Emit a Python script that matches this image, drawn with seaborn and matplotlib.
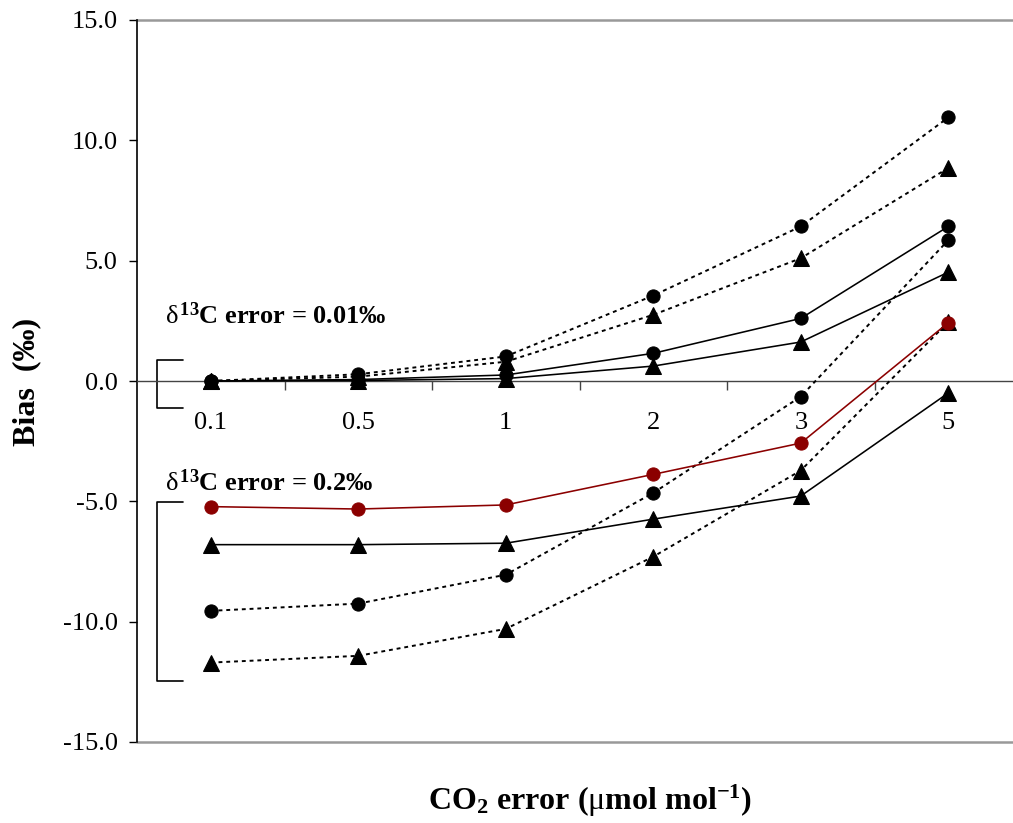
import matplotlib
matplotlib.use("Agg")
import matplotlib.pyplot as plt
import seaborn as sns
import numpy as np
from matplotlib.ticker import FixedLocator, FormatStrFormatter, NullFormatter

# ---------------- data ----------------
categories = ["0.1", "0.5", "1", "2", "3", "5"]

# delta13C error = 0.01 permil
hi_dot_circle = [0.0, 0.28, 1.02, 3.55, 6.42, 10.95]
hi_dot_tri    = [0.0, 0.18, 0.80, 2.75, 5.10, 8.85]
hi_sol_circle = [0.0, 0.06, 0.25, 1.15, 2.60, 6.42]
hi_sol_tri    = [0.0, 0.02, 0.10, 0.62, 1.62, 4.52]

# delta13C error = 0.2 permil
lo_red_circle = [-5.22, -5.32, -5.15, -3.88, -2.58, 2.42]
lo_sol_tri    = [-6.80, -6.80, -6.74, -5.74, -4.78, -0.50]
lo_dot_circle = [-9.55, -9.25, -8.05, -4.65, -0.65, 5.85]
lo_dot_tri    = [-11.70, -11.42, -10.30, -7.30, -3.72, 2.45]

y_ticks = [-15.0, -10.0, -5.0, 0.0, 5.0, 10.0, 15.0]

# ---------------- style ----------------
sns.set_theme(style="white")
plt.rcParams["font.family"] = ["Liberation Serif", "DejaVu Serif"]
plt.rcParams["mathtext.fontset"] = "custom"
plt.rcParams["mathtext.rm"] = "Liberation Serif"
plt.rcParams["mathtext.it"] = "Liberation Serif:italic"
plt.rcParams["mathtext.bf"] = "Liberation Serif:bold"
plt.rcParams["axes.unicode_minus"] = False
plt.rcParams["text.color"] = "black"
plt.rcParams["xtick.color"] = "black"
plt.rcParams["ytick.color"] = "black"
plt.rcParams["axes.labelcolor"] = "black"

fig = plt.figure(figsize=(10.13, 8.23), dpi=100)
ax = fig.add_axes([137 / 1013, 1 - 742 / 823, (1022 - 137) / 1013, (742 - 20) / 823])

xpos = np.arange(len(categories))

dot = (0, (2, 2))
series = [
    (hi_dot_circle, "black", "o", dot, 1.4),
    (hi_dot_tri, "black", "^", dot, 1.4),
    (hi_sol_circle, "black", "o", "-", 1.15),
    (hi_sol_tri, "black", "^", "-", 1.15),
    (lo_sol_tri, "black", "^", "-", 1.15),
    (lo_dot_circle, "black", "o", dot, 1.4),
    (lo_dot_tri, "black", "^", dot, 1.4),
    (lo_red_circle, "#8B0000", "o", "-", 1.15),
]
for vals, col, mk, ls, lw in series:
    ms = 9.5 if mk == "o" else 11
    sns.lineplot(x=xpos, y=vals, ax=ax, color=col, marker=mk, markersize=ms,
                 markeredgecolor=col, markerfacecolor=col, linestyle=ls,
                 linewidth=lw, clip_on=False, zorder=3, legend=False)

ax.set_xlim(-0.5, len(categories) - 0.5)
ax.set_ylim(-15, 15)

# spines
for s in ["top", "right"]:
    ax.spines[s].set_visible(False)
ax.spines["left"].set_color("black")
ax.spines["left"].set_linewidth(1.2)
ax.spines["bottom"].set_position(("data", 0))
ax.spines["bottom"].set_color("#444444")
ax.spines["bottom"].set_linewidth(1.0)

# gray frame lines at top and bottom
ax.axhline(15, color="#999999", lw=1.8, zorder=1, clip_on=False)
ax.axhline(-15, color="#999999", lw=1.8, zorder=1, clip_on=False)

# y ticks
ax.yaxis.set_major_locator(FixedLocator(y_ticks))
ax.yaxis.set_major_formatter(FormatStrFormatter("%.1f"))
ax.tick_params(axis="y", which="major", direction="out", length=6, width=1,
               color="black", labelcolor="black", labelsize=19, pad=8, left=True)

# x ticks: marks at category boundaries, labels at centres
ax.xaxis.set_major_locator(FixedLocator(np.arange(0.5, len(categories) - 0.5, 1.0)))
ax.xaxis.set_major_formatter(NullFormatter())
ax.xaxis.set_minor_locator(FixedLocator(xpos))
ax.set_xticklabels(categories, minor=True)
ax.tick_params(axis="x", which="major", direction="out", length=6.5, width=1,
               color="#444444", bottom=True)
ax.tick_params(axis="x", which="minor", length=0, labelsize=19, pad=22,
               labelcolor="black", bottom=True)

ax.set_xlabel("")
ax.set_ylabel("")

# axis titles
fig.text(590 / 1013, 1 - 801 / 823,
         r"CO$_\mathbf{2}$ error ($\mathrm{\mu}$mol mol$^{\mathbf{-1}}$)",
         ha="center", va="center", fontsize=23, fontweight="bold", color="black")
fig.text(27 / 1013, 1 - 382 / 823, "Bias  (‰)", rotation=90,
         ha="center", va="center", fontsize=23, fontweight="bold", color="black")

# group annotations
ax.text(-0.31, 2.72, r"$\mathrm{\delta}^{\,\mathbf{13}}$C error = 0.01‰",
        ha="left", va="center", fontsize=19, fontweight="bold", color="black")
ax.text(-0.31, -4.22, r"$\mathrm{\delta}^{\,\mathbf{13}}$C error = 0.2‰",
        ha="left", va="center", fontsize=19, fontweight="bold", color="black")

# brackets
bx0, bx1 = -0.364, -0.188
for ytop, ybot in [(0.87, -1.12), (-5.03, -12.46)]:
    ax.plot([bx1, bx0, bx0, bx1], [ytop, ytop, ybot, ybot], color="black",
            lw=1.2, clip_on=False, zorder=2)

fig.savefig("out.png", dpi=100)
